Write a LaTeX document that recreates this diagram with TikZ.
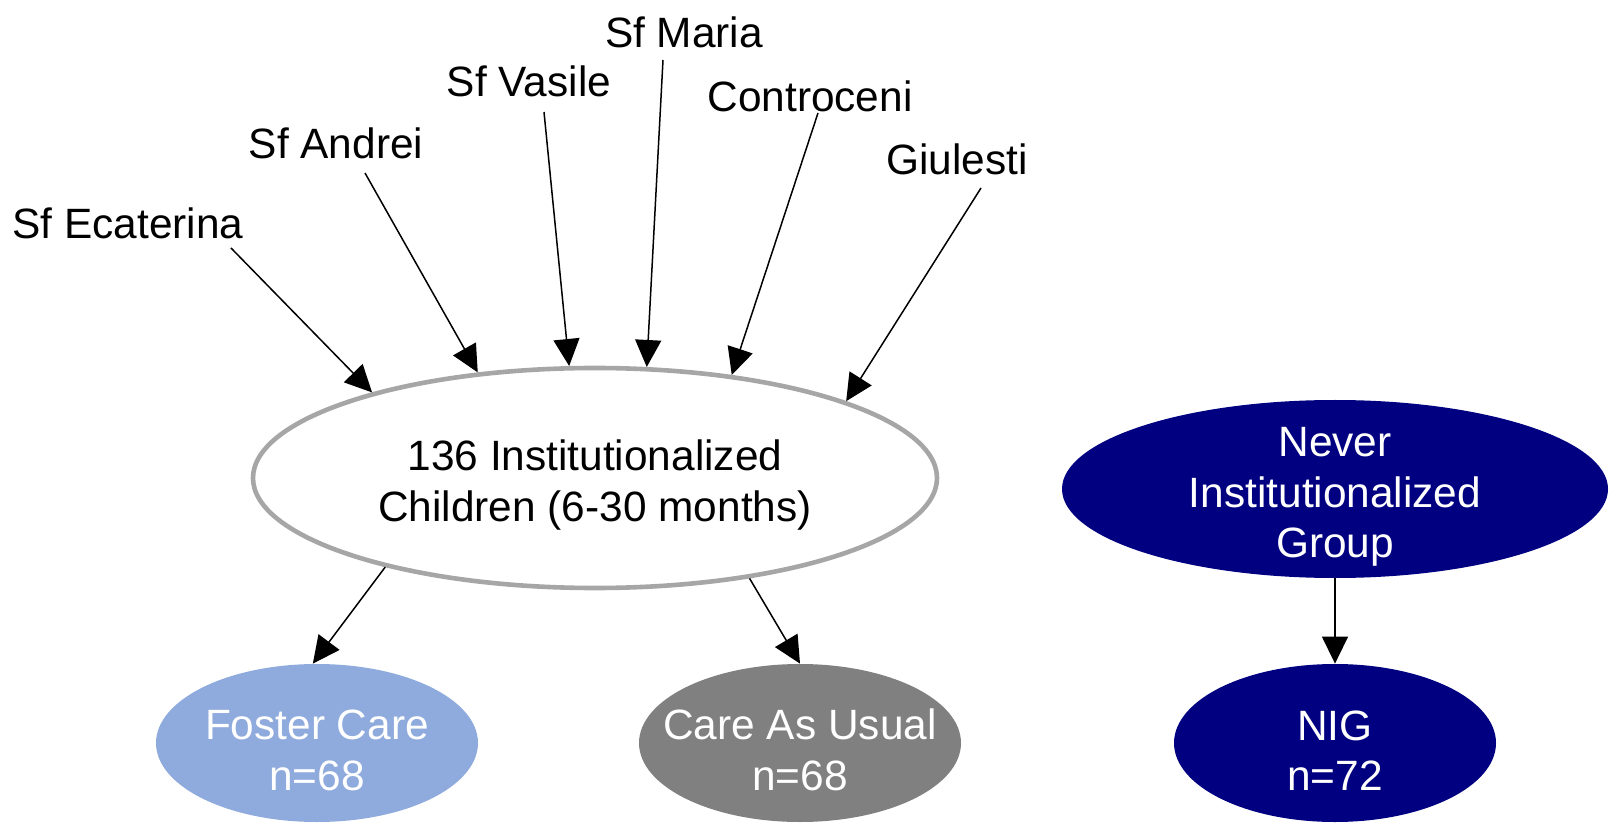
\documentclass[tikz,border=0pt]{standalone}
\usepackage{fontspec}
\setmainfont{Liberation Sans}
\usetikzlibrary{arrows.meta,shapes,positioning}
\definecolor{fosterBlue}{HTML}{8FAADC}
\definecolor{cauGray}{HTML}{808080}
\definecolor{nigNavy}{HTML}{000080}
\newcommand{\diagfont}{\fontsize{21.2pt}{25.4pt}\selectfont}
\newcommand{\dropstrut}{\rule{0pt}{22.5pt}}
\tikzstyle{site}        = [inner sep=0pt, font=\diagfont]
\tikzstyle{institution} = [ellipse, draw=gray!70, line width=2.3pt, fill=white, inner sep=0pt,
    align=center, font=\diagfont, minimum width=342pt, minimum height=110pt]
\tikzstyle{group}       = [ellipse, inner ysep=-8pt, inner xsep=-12pt, text=white, align=center, font=\diagfont,
    minimum width=161pt, minimum height=79pt]
\tikzstyle{line} = [draw, line width=0.75pt, -{Triangle[length=13.5pt,width=13pt]}]

\begin{document}
\begin{tikzpicture}
    \useasboundingbox (-297.5pt,-175.5pt) rectangle (507pt,239pt);
    % Place nodes
    \node [institution] (main) {\dropstrut 136 Institutionalized\\Children (6-30 months)};
    \node [group, fill=fosterBlue, below of=main, node distance=132.5pt, xshift=-139pt] (foster) {\dropstrut Foster Care\\n=68};
    \node [group, fill=cauGray, right of=foster, node distance=483pt/2] (cau) {\dropstrut Care As Usual\\n=68};
    \node [group, fill=nigNavy, right of=main, node distance=370pt, yshift=-5.5pt,
        minimum width=273pt, minimum height=89pt] (never) {\dropstrut Never\\Institutionalized\\Group};
    \node [group, fill=nigNavy, below of=never, node distance=127pt] (nig) {\dropstrut NIG\\n=72};

    \node [site] (ecaterina)  at (-233.5pt,127.5pt) {Sf Ecaterina};
    \node [site] (andrei)     at (-129.5pt,167.5pt) {Sf Andrei};
    \node [site] (vasile)     at (-33pt,198.5pt)    {Sf Vasile};
    \node [site] (maria)      at (44.5pt,223pt)     {Sf Maria};
    \node [site] (controceni) at (107.5pt,191pt)    {Controceni};
    \node [site] (giulesti)   at (181pt,159.5pt)    {Giulesti};

    \path [line] ([xshift=51.5pt,yshift=-12.5pt]ecaterina.center) -- (main.159.8);
    \path [line] ([xshift=14.5pt,yshift=-15pt]andrei.center)      -- (main.138.7);
    \path [line] ([xshift=7.5pt,yshift=-15.5pt]vasile.center)     -- (main.103.2);
    \path [line] ([xshift=-10.5pt,yshift=-14pt]maria.center)      -- (main.65.5);
    \path [line] ([xshift=4pt,yshift=-8.5pt]controceni.center)    -- (main.37.8);
    \path [line] ([xshift=12pt,yshift=-14.5pt]giulesti.center)    -- (main.17.2);

    \path [line] (main.203.1) --(foster.93);
    \path [line] (main.-33.2) --(cau.north);
    \path [line] (never.south) --(nig.north);
\end{tikzpicture}
\end{document}
